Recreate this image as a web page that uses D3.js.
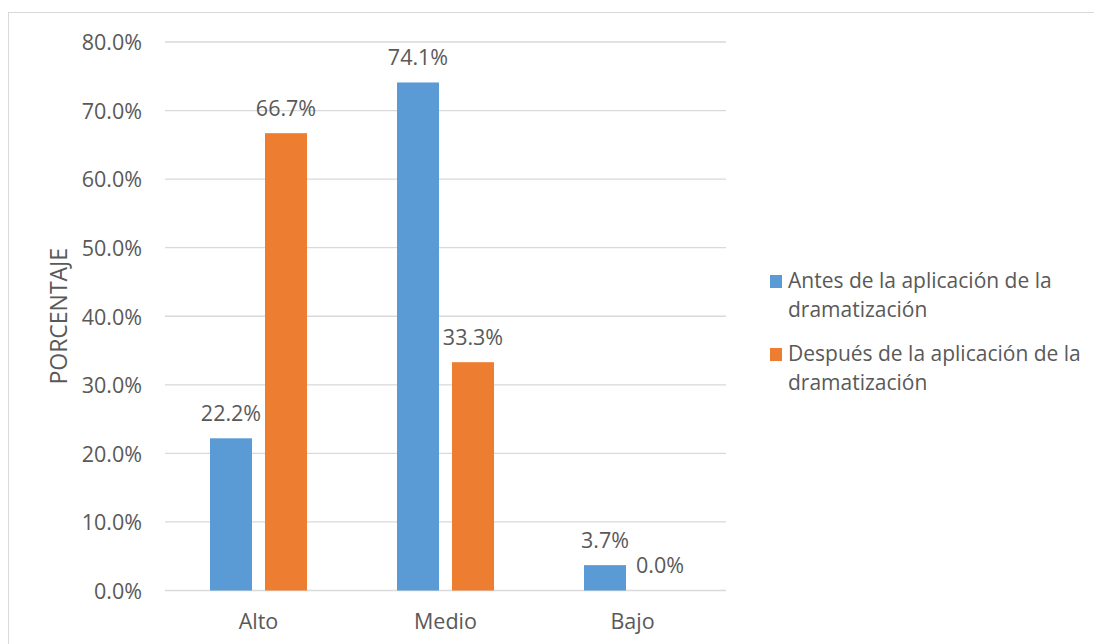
<!DOCTYPE html>
<html>
<head>
<meta charset="utf-8">
<script src="https://cdn.jsdelivr.net/npm/d3@7/dist/d3.min.js"></script>
<style>
  body { margin: 0; background: #fff; }
  svg { font-family: "Open Sans", "Lato", sans-serif; }
</style>
</head>
<body>
<div id="chartContainer"></div>
<script>
// data
const categories = ["Alto", "Medio", "Bajo"];
const seriesKeys = ["antes", "despues"];
const seriesLabels = [
    ["Antes de la aplicación de la", "dramatización"],
    ["Después de la aplicación de la", "dramatización"]
];
const antesValues = [22.2, 74.1, 3.7];
const despuesValues = [66.7, 33.3, 0.0];
const yTicks = [0, 10, 20, 30, 40, 50, 60, 70, 80];
const yTitle = "PORCENTAJE";

const colors = ["#5B9BD5", "#ED7D31"];
const textColor = "#595959";
const gridColor = "#D9D9D9";
const fontSize = 21.5;

const W = 1094, H = 644;
const plot = { left: 165, right: 726, top: 42, bottom: 590.5 };

const svg = d3.select("#chartContainer").append("svg")
    .attr("width", W)
    .attr("height", H);

// chart frame (right and bottom edges fall outside the picture)
svg.append("rect")
    .attr("x", 8.5).attr("y", 12.5)
    .attr("width", W + 20).attr("height", H + 20)
    .attr("fill", "#fff")
    .attr("stroke", gridColor);

const rows = categories.map((c, i) => ({ cat: c, antes: antesValues[i], despues: despuesValues[i] }));

// scales
const x0 = d3.scaleBand().domain(categories).range([plot.left, plot.right]);
const groupW = 97;
const x1 = d3.scaleBand().domain(seriesKeys)
    .range([(x0.bandwidth() - groupW) / 2, (x0.bandwidth() + groupW) / 2])
    .paddingInner(13 / 55);
const y = d3.scaleLinear().domain([0, 80]).range([plot.bottom, plot.top]);

// gridlines
svg.append("g")
    .selectAll("line")
    .data(yTicks)
    .enter()
    .append("line")
    .attr("x1", plot.left).attr("x2", plot.right)
    .attr("y1", d => y(d)).attr("y2", d => y(d))
    .attr("stroke", gridColor)
    .attr("stroke-width", 1.3);

// y axis labels
const yAxis = d3.axisLeft(y).tickValues(yTicks).tickSize(0).tickPadding(23)
    .tickFormat(d => d.toFixed(1) + "%");
svg.append("g")
    .attr("transform", `translate(${plot.left}, 0)`)
    .call(yAxis)
    .call(g => g.select(".domain").remove())
    .selectAll("text")
    .attr("fill", textColor)
    .attr("font-size", fontSize)
    .attr("font-family", "Open Sans")
    .attr("dy", "0.36em");

// x axis labels
const xAxis = d3.axisBottom(x0).tickSize(0).tickPadding(0);
svg.append("g")
    .attr("transform", `translate(0, ${plot.bottom})`)
    .call(xAxis)
    .call(g => g.select(".domain").remove())
    .selectAll("text")
    .attr("fill", textColor)
    .attr("font-size", fontSize)
    .attr("font-family", "Open Sans")
    .attr("y", 38.5)
    .attr("dy", 0);

// y title
svg.append("text")
    .attr("transform", `translate(66.5, ${(plot.top + plot.bottom) / 2}) rotate(-90)`)
    .attr("text-anchor", "middle")
    .attr("fill", textColor)
    .attr("font-size", 23)
    .text(yTitle);

// bars
const groups = svg.append("g")
    .selectAll("g")
    .data(rows)
    .enter()
    .append("g")
    .attr("transform", d => `translate(${x0(d.cat)}, 0)`);

groups.selectAll("rect")
    .data(d => seriesKeys.map((k, i) => ({ key: k, i: i, value: d[k] })))
    .enter()
    .append("rect")
    .attr("x", d => x1(d.key))
    .attr("y", d => y(d.value))
    .attr("width", x1.bandwidth())
    .attr("height", d => y(0) - y(d.value))
    .attr("fill", d => colors[d.i]);

// value labels
groups.selectAll("text")
    .data(d => seriesKeys.map((k, i) => ({ key: k, i: i, value: d[k] })))
    .enter()
    .append("text")
    .attr("x", d => x1(d.key) + x1.bandwidth() / 2)
    .attr("y", d => y(d.value) - 17.5)
    .attr("text-anchor", "middle")
    .attr("fill", textColor)
    .attr("font-size", fontSize)
    .text(d => d.value.toFixed(1) + "%");

// legend
const legend = svg.append("g")
    .selectAll("g")
    .data(seriesLabels)
    .enter()
    .append("g")
    .attr("transform", (d, i) => `translate(770, ${288 + i * 73})`);

legend.append("rect")
    .attr("x", 0).attr("y", -13)
    .attr("width", 12).attr("height", 13)
    .attr("fill", (d, i) => colors[i]);

legend.append("text")
    .attr("fill", textColor)
    .attr("font-size", 21)
    .selectAll("tspan")
    .data(d => d)
    .enter()
    .append("tspan")
    .attr("x", 18)
    .attr("y", (d, i) => i * 28.7)
    .text(d => d);
</script>
</body>
</html>
